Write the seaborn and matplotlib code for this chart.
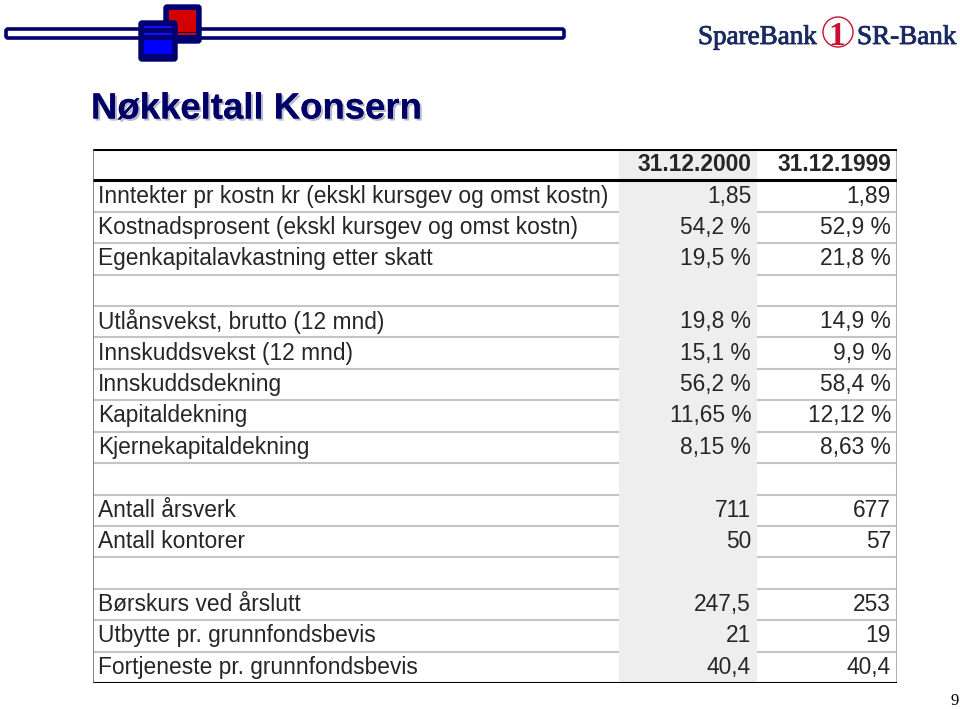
import matplotlib
matplotlib.use("Agg")
import matplotlib.pyplot as plt
import matplotlib.patches as mpatches
import matplotlib.patheffects as pe
import seaborn as sns

# --- data ---
row_labels = [
    "Inntekter pr kostn kr (ekskl kursgev og omst kostn)",
    "Kostnadsprosent (ekskl kursgev og omst kostn)",
    "Egenkapitalavkastning etter skatt",
    "",
    "Utlånsvekst, brutto (12 mnd)",
    "Innskuddsvekst (12 mnd)",
    "Innskuddsdekning",
    "Kapitaldekning",
    "Kjernekapitaldekning",
    "",
    "Antall årsverk",
    "Antall kontorer",
    "",
    "Børskurs ved årslutt",
    "Utbytte pr. grunnfondsbevis",
    "Fortjeneste pr. grunnfondsbevis",
]
col_headers = ["31.12.2000", "31.12.1999"]
values_2000 = [1.85, 54.2, 19.5, None, 19.8, 15.1, 56.2, 11.65, 8.15, None, 711, 50, None, 247.5, 21, 40.4]
values_1999 = [1.89, 52.9, 21.8, None, 14.9, 9.9, 58.4, 12.12, 8.63, None, 677, 57, None, 253, 19, 40.4]
decimals = [2, 1, 1, 0, 1, 1, 1, 2, 2, 0, 0, 0, 0, 1, 0, 1]
is_percent = [False, True, True, False, True, True, True, True, True, False,
              False, False, False, False, False, False]


def fmt(v, d, pct):
    if v is None:
        return ""
    if float(v).is_integer() and not pct:
        d = 0
    s = f"{v:.{d}f}".replace(".", ",")
    return s + " %" if pct else s


sns.set_theme(style="white")
plt.rcParams['font.family'] = ['Liberation Sans', 'DejaVu Sans']

W, H = 960, 709
fig = plt.figure(figsize=(9.6, 7.09), dpi=100)
fig.patch.set_facecolor("white")

# background axes in pixel coordinates for slide decoration
bg = fig.add_axes([0, 0, 1, 1])
bg.set_xlim(0, W)
bg.set_ylim(H, 0)
bg.axis("off")

navy = "#000070"
# header bar of the slide
bg.add_patch(mpatches.FancyBboxPatch((6, 29), 558, 9, boxstyle="round,pad=0,rounding_size=2",
                                     facecolor="white", edgecolor=navy, linewidth=2.6))
# red square
bg.add_patch(mpatches.FancyBboxPatch((164, 5), 37, 38, boxstyle="round,pad=0,rounding_size=3",
                                     facecolor=navy, edgecolor=navy, linewidth=1))
bg.add_patch(mpatches.Rectangle((169, 10), 27, 22, facecolor="#d40000", edgecolor="none"))
bg.add_patch(mpatches.Rectangle((169, 33), 27, 2, facecolor="#d40000", edgecolor="none"))
# blue square
bg.add_patch(mpatches.FancyBboxPatch((139, 21), 38, 40, boxstyle="round,pad=0,rounding_size=3",
                                     facecolor=navy, edgecolor=navy, linewidth=1))
bg.add_patch(mpatches.Rectangle((144, 26), 28, 1.6, facecolor="#1010ff", edgecolor="none"))
bg.add_patch(mpatches.Rectangle((144, 33), 28, 2, facecolor="#1010ff", edgecolor="none"))
bg.add_patch(mpatches.Rectangle((144, 40), 28, 14, facecolor="#0000ff", edgecolor="none"))

# SpareBank 1 SR-Bank logo
logo_col = "#1a2a60"
bold_fx = [pe.withStroke(linewidth=0.6, foreground=logo_col)]
bg.text(698, 44, "SpareBank", fontsize=19.5, family="Liberation Serif", color=logo_col,
        ha="left", va="baseline", path_effects=bold_fx)
bg.text(837, 45, "1", fontsize=24, family="Liberation Serif", fontweight="bold",
        color="#c8102e", ha="center", va="baseline")
bg.add_patch(mpatches.Circle((838, 32), 15, facecolor="none", edgecolor="#c8102e", linewidth=1.0))
bg.text(857, 44, "SR-Bank", fontsize=19.5, family="Liberation Serif", color=logo_col,
        ha="left", va="baseline", path_effects=bold_fx)

# title with shadow
bg.text(91, 109, "Nøkkeltall Konsern", fontsize=26.3, fontweight="bold", color="#000066",
        ha="left", va="center",
        path_effects=[pe.withSimplePatchShadow(offset=(1.5, -1.5), shadow_rgbFace="#b8b8c8", alpha=1),
                      pe.Normal()])

# page number
bg.text(955, 701, "9", fontsize=12, family="Liberation Serif", color="black", ha="center", va="center")

# --- table axes ---
left, right, top, bottom = 93, 897, 149, 683
ax = fig.add_axes([left / W, 1 - bottom / H, (right - left) / W, (bottom - top) / H])
n_rows = len(row_labels) + 1
col_edges = [0, 526, 664, 804]
ax.set_xlim(0, col_edges[-1])
ax.set_ylim(n_rows, 0)
ax.axis("off")

# shaded 2000 column
ax.axvspan(col_edges[1], col_edges[2], color="#eeeeee", zorder=0, lw=0)

# thin row separators (not through the shaded column)
for i in range(2, n_rows):
    ax.hlines(i, col_edges[0], col_edges[1], color="#c4c4c4", lw=1.5, zorder=1)
    ax.hlines(i, col_edges[2], col_edges[3], color="#c4c4c4", lw=1.5, zorder=1)

# heavy rules
for y in (0, 1, n_rows):
    ax.hlines(y, col_edges[0], col_edges[3], color="black", lw=2.2, zorder=3)
ax.vlines(col_edges[0], 0, n_rows, color="#707070", lw=1.2, zorder=2)
ax.vlines(col_edges[3], 0, n_rows, color="#b0b0b0", lw=1.5, zorder=2)

fs = 16.4
pad_r = 6
ax.text(col_edges[2] - pad_r, 0.5, col_headers[0], fontsize=fs, fontweight="bold",
        ha="right", va="center")
ax.text(col_edges[3] - pad_r, 0.5, col_headers[1], fontsize=fs, fontweight="bold",
        ha="right", va="center")

for i, lab in enumerate(row_labels):
    y = i + 1.5
    ax.text(5, y, lab, fontsize=fs, ha="left", va="center")
    ax.text(col_edges[2] - pad_r, y, fmt(values_2000[i], decimals[i], is_percent[i]),
            fontsize=fs, ha="right", va="center")
    ax.text(col_edges[3] - pad_r, y, fmt(values_1999[i], decimals[i], is_percent[i]),
            fontsize=fs, ha="right", va="center")

fig.savefig("out.png", dpi=100)
